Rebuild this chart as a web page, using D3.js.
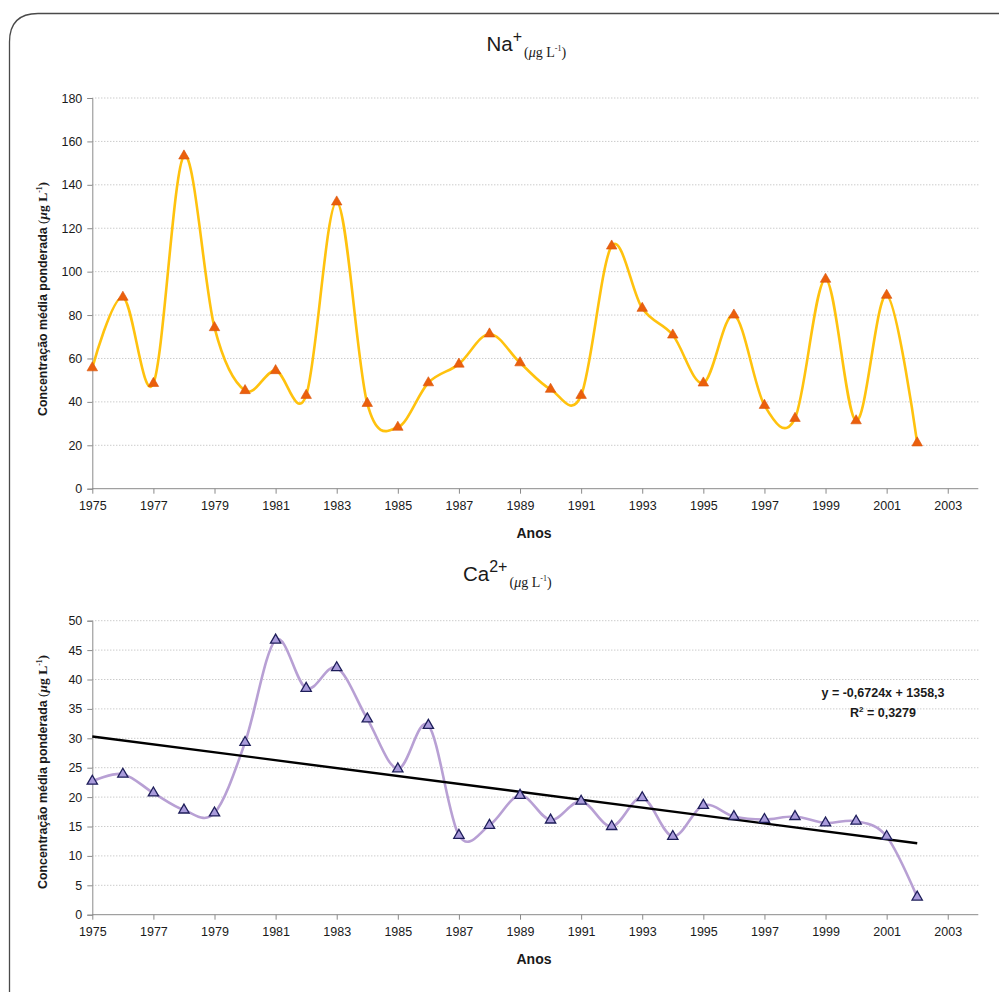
<!DOCTYPE html>
<html>
<head>
<meta charset="utf-8">
<script src="https://cdn.jsdelivr.net/npm/d3@7"></script>
<style>
  html, body { margin: 0; padding: 0; background: #fff; }
  svg { display: block; }
  text { font-family: "Liberation Sans", Arial, sans-serif; fill: #1a1a1a; }
</style>
</head>
<body>
<svg id="chart" width="999" height="992"></svg>
<script>
// Annual volume-weighted mean concentrations, 1975–2002
const years = d3.range(1975, 2003);
const sodium = [55.7, 88.2, 48.5, 153.3, 74.2, 45.2, 54.4, 43.0, 132.1, 39.3,
                28.3, 48.8, 57.4, 71.3, 58.0, 45.8, 43.0, 111.8, 83.1, 70.8,
                48.7, 80.0, 38.4, 32.4, 96.5, 31.3, 89.1, 21.1];
const calcium = [22.7, 23.9, 20.7, 17.8, 17.3, 29.3, 46.7, 38.5, 42.0, 33.3,
                 24.8, 32.2, 13.5, 15.2, 20.3, 16.1, 19.3, 15.0, 19.9, 13.3,
                 18.6, 16.7, 16.2, 16.7, 15.6, 15.9, 13.3, 3.0];
// Linear trend fitted to calcium
const trendSlope = -0.6724;
const trendIntercept = 1358.3;
const trendLabel = "y = -0,6724x + 1358,3";
const trendR2 = "0,3279";

const xTickYears = d3.range(1975, 2004, 2);
const naTicks = d3.range(0, 181, 20);
const caTicks = d3.range(0, 51, 5);

const svg = d3.select("#chart");

// rounded frame (only top-left corner falls inside the page)
svg.append("path")
  .attr("d", "M9.5,1000 L9.5,42 Q9.5,13.5 38,13.5 L1005,13.5")
  .attr("fill", "none").attr("stroke", "#4a4a4a").attr("stroke-width", 1.3);

const x = d3.scaleLinear().domain([1975, 2004]).range([92.3, 978.3]);
const serif = "'Liberation Serif', 'Times New Roman', serif";

function panel(opts) {
  const y = d3.scaleLinear().domain(opts.domain).range([opts.bottom, opts.top]);
  const g = svg.append("g");

  // dotted gridlines
  g.append("g").selectAll("line").data(opts.ticks.filter(t => t > 0)).join("line")
    .attr("x1", x(1975)).attr("x2", x(2004))
    .attr("y1", d => y(d)).attr("y2", d => y(d))
    .attr("stroke", "#b5b5b5").attr("stroke-width", 1).attr("stroke-dasharray", "1,2");

  // y axis
  const ya = g.append("g").attr("transform", `translate(${x(1975)},0)`)
    .call(d3.axisLeft(y).tickValues(opts.ticks).tickSize(5).tickPadding(5).tickFormat(d3.format("d")));
  ya.select(".domain").attr("stroke", "#8a8a8a");
  ya.selectAll(".tick line").attr("stroke", "#8a8a8a");
  ya.selectAll("text").style("font-size", "12.5px").attr("fill", "#1a1a1a");

  // x axis
  const xa = g.append("g").attr("transform", `translate(0,${opts.bottom})`)
    .call(d3.axisBottom(x).tickValues(xTickYears).tickSize(5).tickPadding(7).tickFormat(d3.format("d")));
  xa.select(".domain").attr("stroke", "#8a8a8a").attr("d", `M${x(1975)},0H${x(2004)}`);
  xa.selectAll(".tick line").attr("stroke", "#8a8a8a");
  xa.selectAll("text").style("font-size", "12.5px").attr("fill", "#1a1a1a");

  // axis titles
  g.append("text").attr("x", 534).attr("y", opts.bottom + 49)
    .attr("text-anchor", "middle").style("font-size", "14px").style("font-weight", "bold")
    .text("Anos");

  const yt = g.append("text")
    .attr("transform", `translate(47,${opts.ytitleY}) rotate(-90)`)
    .attr("text-anchor", "middle").style("font-size", "12.4px").style("font-weight", "bold");
  yt.append("tspan").text("Concentração média ponderada ");
  yt.append("tspan").style("font-family", serif)
    .style("font-weight", "normal").style("font-size", "13.5px").text("(");
  yt.append("tspan").style("font-family", serif)
    .style("font-style", "italic").style("font-weight", "bold").style("font-size", "13.5px").text("μ");
  yt.append("tspan").style("font-family", serif)
    .style("font-weight", "bold").style("font-size", "13.5px").text("g L");
  yt.append("tspan").style("font-family", serif)
    .style("font-size", "7.5px").attr("dy", "-5").text("-1");
  yt.append("tspan").style("font-family", serif)
    .style("font-weight", "bold").style("font-size", "13.5px").attr("dy", "5").text(")");

  // chart title
  const tt = g.append("text").attr("x", opts.titleX).attr("y", opts.titleY);
  tt.append("tspan").style("font-size", "20.5px").text(opts.ion);
  tt.append("tspan").style("font-size", "16px").attr("dy", "-9").text(opts.charge);
  tt.append("tspan").style("font-family", serif).style("font-size", "14px").attr("dy", "15").attr("dx", "2").text("(");
  tt.append("tspan").style("font-family", serif).style("font-size", "14px").style("font-style", "italic").text("μ");
  tt.append("tspan").style("font-family", serif).style("font-size", "14px").text("g L");
  tt.append("tspan").style("font-family", serif).style("font-size", "8px").attr("dy", "-6").text("-1");
  tt.append("tspan").style("font-family", serif).style("font-size", "14px").attr("dy", "6").text(")");

  return { g, y };
}

// ---- Na+ panel ----
const na = panel({ domain: [0, 180], ticks: naTicks, top: 98, bottom: 488.7,
  ytitleY: 299, titleX: 486.5, titleY: 51, ion: "Na", charge: "+" });

const naData = years.map((yr, i) => [yr, sodium[i]]);
na.g.append("path").datum(naData)
  .attr("fill", "none").attr("stroke", "#FFC20E").attr("stroke-width", 2.6)
  .attr("d", d3.line().x(d => x(d[0])).y(d => na.y(d[1])).curve(d3.curveCatmullRom.alpha(0)));
na.g.append("g").selectAll("path").data(naData).join("path")
  .attr("transform", d => `translate(${x(d[0])},${na.y(d[1])})`)
  .attr("d", d3.symbol(d3.symbolTriangle, 48))
  .attr("fill", "#EB5F0C").attr("stroke", "#D9540A").attr("stroke-width", 0.6);

// ---- Ca2+ panel ----
const ca = panel({ domain: [0, 50], ticks: caTicks, top: 620.7, bottom: 914.7,
  ytitleY: 772, titleX: 463, titleY: 581, ion: "Ca", charge: "2+" });

const caData = years.map((yr, i) => [yr, calcium[i]]);
ca.g.append("path").datum(caData)
  .attr("fill", "none").attr("stroke", "#B8A0D4").attr("stroke-width", 2.6)
  .attr("d", d3.line().x(d => x(d[0])).y(d => ca.y(d[1])).curve(d3.curveCatmullRom.alpha(0)));

// linear trend across the observed years
const trendEnds = [years[0], years[years.length - 1]];
ca.g.append("line")
  .attr("x1", x(trendEnds[0])).attr("y1", ca.y(trendSlope * trendEnds[0] + trendIntercept))
  .attr("x2", x(trendEnds[1])).attr("y2", ca.y(trendSlope * trendEnds[1] + trendIntercept))
  .attr("stroke", "#000").attr("stroke-width", 2.4);

ca.g.append("g").selectAll("path").data(caData).join("path")
  .attr("transform", d => `translate(${x(d[0])},${ca.y(d[1])})`)
  .attr("d", d3.symbol(d3.symbolTriangle, 46))
  .attr("fill", "#A99BDB").attr("stroke", "#1E1E5A").attr("stroke-width", 1.3);

ca.g.append("text").attr("x", 883).attr("y", 697).attr("text-anchor", "middle")
  .style("font-size", "12.5px").style("font-weight", "bold").text(trendLabel);
const r2 = ca.g.append("text").attr("x", 883).attr("y", 717).attr("text-anchor", "middle")
  .style("font-size", "12.5px").style("font-weight", "bold");
r2.append("tspan").text("R");
r2.append("tspan").style("font-size", "8px").attr("dy", "-5").text("2");
r2.append("tspan").attr("dy", "5").text(" = " + trendR2);
</script>
</body>
</html>
